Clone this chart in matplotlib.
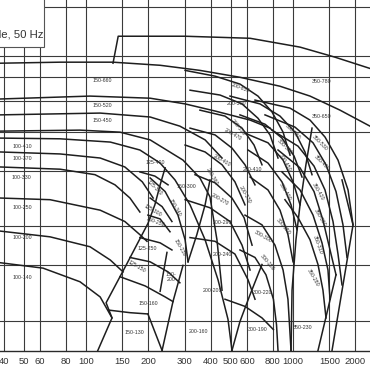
import matplotlib
matplotlib.use("Agg")
import matplotlib.pyplot as plt
from matplotlib.patches import Rectangle

# ---- axis data ----
x_ticks = [40, 50, 60, 80, 100, 150, 200, 300, 400, 500, 600, 800, 1000, 1500, 2000]
x_tick_labels = ["40", "50", "60", "80", "100", "150", "200", "300", "400", "500", "600", "800", "1000", "1500", "2000"]
y_grid = [10, 15, 20, 30, 40, 50, 60, 70, 100]

# ---- curves: (Q m3/h, H m) ----
top_envelope = [(135, 66.2), (143, 80.7), (301, 80.7), (620, 79.5), (1081, 74.5), (1595, 69.2), (2354, 63.7)]
curve_p1 = [(38.4, 66.2), (74.9, 66.7), (135, 66.7), (228, 65.2), (355, 62.8), (554, 59.7), (865, 55.9), (1208, 52.0), (1686, 46.9), (2354, 41.7)]
curve_p2 = [(38.4, 50.9), (104.5, 52.0), (204, 51.2), (301, 49.1), (420, 46.6), (620, 43.6), (774, 41.1)]
curve_p3 = [(38.4, 45.3), (117, 45.9), (204, 44.6), (284, 41.7), (376, 37.7), (454, 33.0)]
curve_p4 = [(38.4, 40.2), (93.5, 40.5), (146, 39.9), (204, 37.7), (294, 32.5), (355, 28.5), (397, 24.8), (429, 18.1), (454, 12.5)]

c100_a = [(38.4, 38.2), (74.9, 38.0), (131, 37.1), (182, 35.0), (228, 31.8), (269, 28.1), (318, 23.4), (376, 18.1), (434, 13.5), (485, 10.1), (507, 8.03)]
c100_b = [(38.4, 34.5), (74.9, 34.0), (117, 33.0), (154, 30.9), (187, 27.7), (211, 24.6)]
c100_c = [(38.4, 30.9), (74.9, 30.4), (110.5, 29.2), (138, 27.1), (163, 24.6), (182, 22.2)]
c100_d = [(38.4, 24.6), (67, 24.3), (117, 22.5), (154, 20.7), (182, 18.8), (197, 17.9)]
c100_e = [(38.4, 19.3), (67, 18.5), (104.5, 17.2), (131, 15.6), (151, 14.3)]
c100_f = [(38.4, 15.3), (62, 14.7), (93.5, 13.3), (117, 11.9), (133.5, 10.2)]

s125_left = [(114, 8.03), (133.5, 10.2), (125, 11.4), (156, 15.0), (199, 20.4), (215, 23.4), (228, 27.1), (241, 30.7)]
s150_130_top = [(129, 10.8), (163, 10.6), (199, 10.5)]
s150_130_right = [(199, 10.5), (233, 8.03)]
s150_160_right = [(294, 15.0), (263, 11.5), (233, 8.03)]
s150_160_top = [(146, 13.8), (193, 12.9), (241, 11.9), (263, 11.5)]
s125_150_top = [(163, 15.9), (204, 15.4), (249, 14.3), (284, 13.2)]
s150_200_left = [(228, 12.4), (246, 16.5)]
s125_250_top = [(182, 18.4), (228, 17.7), (260, 16.8)]
s125_k1 = [(204, 28.5), (241, 25.8), (278, 21.7), (301, 18.1), (311, 15.4)]
s125_k2 = [(204, 24.6), (233, 23.1), (260, 20.7)]
s125_k3 = [(199, 21.7), (228, 21.1), (254.5, 19.2)]
s150_k4 = [(311, 15.4), (343, 18.8), (376, 23.4), (397, 28.1)]
s125_400_bottom = [(182, 29.8), (215, 28.9), (249, 27.1)]

g200_1 = [(301, 62.8), (420, 60.2), (554, 56.8), (677, 52.0), (791, 46.3), (895, 39.9), (967, 33.7)]
g200_2 = [(318, 54.3), (444, 52.4), (567, 49.1), (677, 44.2), (774, 39.1), (846, 33.0)]
g200_3 = [(355, 46.9), (469, 44.9), (567, 41.1), (648, 36.3), (708, 31.4)]
g200_4 = [(318, 41.1), (420, 39.1), (507, 35.5), (586, 31.4), (655, 27.1)]
g200_5 = [(301, 36.3), (376, 34.5), (454, 31.4), (524, 27.7), (586, 23.4)]
g200_6 = [(336, 29.2), (420, 27.5), (507, 24.6), (580, 21.3), (634, 17.4)]
g200_7 = [(301, 24.3), (397, 22.9), (496, 20.7), (567, 17.4), (620, 14.5)]
g200_8 = [(318, 18.4), (420, 17.9), (524, 16.3), (606, 13.5), (655, 11.7)]
g200_v = [(708, 15.1), (620, 12.1), (554, 9.93), (507, 8.03)]

q300_1 = [(496, 52.0), (692, 49.1), (865, 44.9), (1022, 39.9), (1142, 34.5), (1235, 29.2)]
q300_2 = [(554, 45.3), (732, 42.3), (884, 38.2), (1011, 33.5), (1105, 28.7)]
q300_3 = [(586, 39.6), (757, 36.9), (895, 32.5), (1000, 27.7), (1081, 23.4)]
q300_4 = [(606, 35.0), (757, 31.8), (884, 27.7), (978, 23.4), (1045, 19.5)]
q300_5 = [(620, 28.7), (757, 26.1), (865, 22.5), (945, 18.8), (1000, 15.4)]
q300_6 = [(586, 21.7), (708, 20.2), (818, 17.4), (895, 14.5), (945, 11.7), (978, 8.03)]
q300_7 = [(554, 16.8), (655, 15.9), (740, 14.0), (804, 11.7), (832, 9.71), (846, 8.03)]
q300_8 = [(469, 11.7), (586, 11.1), (708, 10.2), (804, 9.36)]
q300_right = [(1235, 41.1), (1154, 31.4), (1081, 23.4), (1033, 18.1), (989, 12.5), (978, 8.03)]

r350_1 = [(655, 50.5), (967, 47.6), (1208, 43.6), (1427, 38.5), (1649, 32.5), (1844, 26.1), (1949, 20.2)]
r350_2 = [(732, 45.3), (1022, 41.4), (1249, 36.9), (1443, 31.4), (1613, 25.8), (1743, 20.2), (1823, 15.9)]
r350_3 = [(791, 40.5), (1057, 36.0), (1263, 31.1), (1427, 26.1), (1560, 20.7), (1649, 16.3), (1724, 13.0)]
r350_4 = [(846, 35.0), (1081, 30.7), (1263, 25.8), (1395, 20.9), (1509, 16.8), (1613, 14.0)]
r350_5 = [(884, 29.8), (1081, 26.1), (1249, 21.7), (1380, 17.7), (1475, 14.5), (1509, 11.7)]
r350_6 = [(914, 24.3), (1057, 21.3), (1208, 18.1), (1320, 15.1), (1395, 12.5), (1443, 10.2)]
r350_outer = [(1724, 28.1), (1949, 20.2), (1543, 8.03)]
r350_inner = [(1613, 14.0), (1320, 8.03)]

# ---- pump labels: (text, Q, H, rotation) ----
pump_names = ["150-660", "150-520", "150-450", "100-410", "100-370", "100-330", "100-250", "100-200", "100-140",
              "125-400", "125-340", "125-300", "150-250", "150-340", "150-300", "125-250", "125-150", "150-230",
              "150-\n200", "150-160", "150-130",
              "200-650", "200-590", "200-530", "200-470", "200-400", "200-410", "200-360", "200-330", "200-270",
              "200-290", "200-240", "200-200", "200-160",
              "300-560", "300-500", "300-450", "300-400", "300-350", "300-300", "300-250", "300-220", "300-190",
              "350-780", "350-650", "350-530", "350-480", "350-420", "350-360", "350-310", "350-280", "350-230"]
pump_q = [120, 120, 120, 49, 49, 49, 49, 49, 49,
          215, 215, 209, 215, 269, 307, 197, 176, 284,
          258, 199, 172,
          554, 535, 542, 513, 454, 634, 406, 586, 444,
          454, 454, 410, 348,
          1000, 914, 914, 914, 895, 716, 748, 716, 677,
          1380, 1380, 1350, 1380, 1320, 1350, 1320, 1249, 1117]
pump_h = [58.4, 48.7, 43.6, 36.0, 33.0, 28.5, 22.9, 18.4, 13.7,
          32.0, 26.5, 22.5, 20.7, 22.9, 26.7, 17.0, 14.9, 17.1,
          13.8, 11.3, 9.16,
          55.1, 49.1, 41.4, 39.1, 32.5, 30.4, 28.7, 25.2, 24.3,
          20.6, 16.3, 12.46, 9.23,
          39.9, 35.8, 31.8, 25.8, 19.9, 18.5, 15.3, 12.3, 9.36,
          58.0, 44.6, 36.9, 31.8, 25.8, 21.3, 17.4, 13.7, 9.5]
pump_rot = [0, 0, 0, 0, 0, 0, 0, 0, 0,
            0, -45, -30, -20, -60, 0, 0, -30, -60,
            0, 0, 0,
            -20, 0, -50, -30, -30, 0, -60, -60, -30,
            0, 0, 0, 0,
            -45, -45, -60, -60, -50, -30, -50, 0, 0,
            0, 0, -45, -45, -60, -60, -70, -60, 0]

curves = [top_envelope, curve_p1, curve_p2, curve_p3, curve_p4,
          c100_a, c100_b, c100_c, c100_d, c100_e, c100_f,
          s125_left, s150_130_top, s150_130_right, s150_160_right, s150_160_top, s125_150_top,
          s150_200_left, s125_250_top, s125_k1, s125_k2, s125_k3, s150_k4, s125_400_bottom,
          g200_1, g200_2, g200_3, g200_4, g200_5, g200_6, g200_7, g200_8, g200_v,
          q300_1, q300_2, q300_3, q300_4, q300_5, q300_6, q300_7, q300_8, q300_right,
          r350_1, r350_2, r350_3, r350_4, r350_5, r350_6, r350_outer, r350_inner]

plt.rcParams['font.family'] = ['Liberation Sans', 'DejaVu Sans']

fig = plt.figure(figsize=(3.7, 3.7), dpi=100)
ax = fig.add_axes([0, 19 / 370, 1, 351 / 370])
ax.set_xscale('log')
ax.set_yscale('log')
ax.set_xlim(38.4, 2354)
ax.set_ylim(8.0, 105.3)

ax.set_xticks(x_ticks)
ax.set_xticklabels(x_tick_labels)
ax.xaxis.set_minor_locator(matplotlib.ticker.NullLocator())
ax.set_yticks(y_grid)
ax.yaxis.set_minor_locator(matplotlib.ticker.NullLocator())
ax.tick_params(axis='x', length=0, pad=4, labelsize=6.8, labelcolor='#333333')
ax.tick_params(axis='y', length=0, left=False, labelleft=False)
ax.grid(True, which='major', color='#3a3a3a', linewidth=0.8)
for s in ['top', 'left', 'right']:
    ax.spines[s].set_visible(False)
ax.spines['bottom'].set_color('#2a2a2a')
ax.spines['bottom'].set_linewidth(1.0)

for c in curves:
    qs = [p[0] for p in c]
    hs = [p[1] for p in c]
    ax.plot(qs, hs, color='#1e1e1e', linewidth=1.1, solid_joinstyle='round', zorder=3)

for name, q, h, r in zip(pump_names, pump_q, pump_h, pump_rot):
    ax.text(q, h, name, fontsize=3.8, color='#333333', ha='center', va='center',
            rotation=r, rotation_mode='anchor', zorder=4, linespacing=1.0)

# header box (cropped title block)
fig.patches.append(Rectangle((-0.05, (370 - 47) / 370), 0.05 + 44 / 370, 0.2,
                             transform=fig.transFigure, facecolor='white',
                             edgecolor='#555555', linewidth=0.8, zorder=10))
fig.text(43 / 370, (370 - 35) / 370, "4-pole, 50 Hz", fontsize=8.2, color='#333333',
         ha='right', va='center', zorder=11)

fig.savefig("out.png", dpi=100)
